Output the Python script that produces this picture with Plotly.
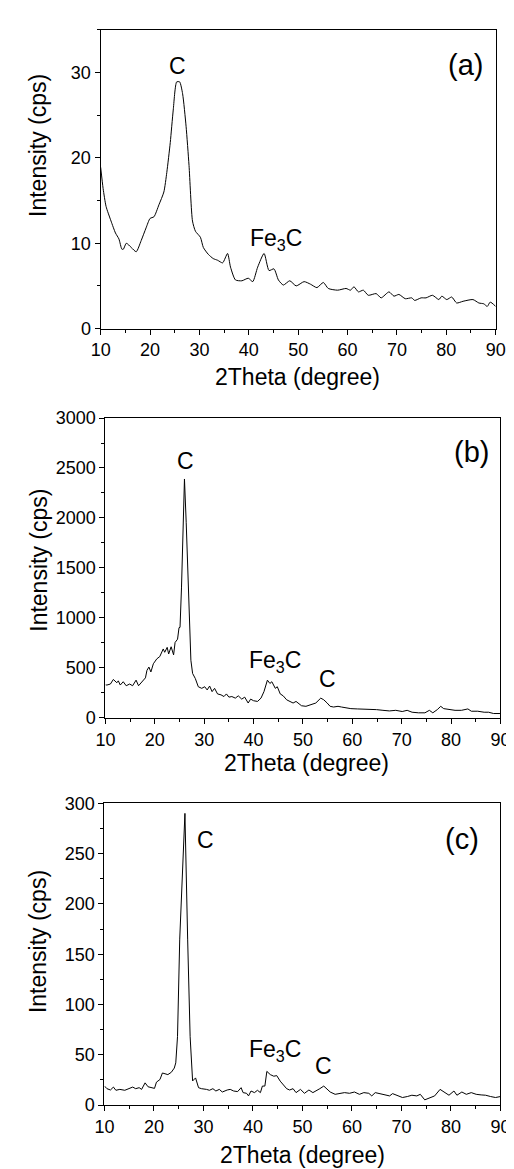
import plotly.graph_objects as go

# ---------------- data ----------------
a_x = [10, 10.5, 11.1, 12.1, 13.0, 13.7, 14.3, 14.6, 15.2, 16.2, 17.2, 18.2, 19.2, 20.0, 20.8,
       21.8, 22.8, 23.4, 24.1, 24.7, 25.4, 26.0, 26.6, 27.3, 27.9, 28.6, 29.2, 30.2, 30.8, 31.8,
       32.8, 33.7, 34.7, 35.7, 36.3, 37.3, 38.6, 39.9, 40.8, 41.8, 43.1, 44.1, 45.1, 46.0, 47.0,
       48.3, 49.6, 51.2, 52.5, 53.8, 55.1, 56.1, 58.0, 59.7, 60.6, 61.3, 62.2, 63.2, 64.2, 65.8,
       66.8, 68.4, 69.4, 70.4, 71.7, 73.0, 73.6, 74.9, 75.9, 77.2, 78.5, 79.1, 80.1, 81.1, 82.1,
       83.4, 85.4, 86.6, 87.6, 88.3, 88.9, 90.0]
a_y = [18.9, 16.4, 14.3, 12.6, 11.2, 10.5, 9.3, 9.3, 10.0, 9.5, 9.0, 10.3, 11.8, 12.9, 13.1,
       14.5, 16.0, 18.3, 21.8, 25.6, 28.9, 28.9, 27.5, 23.7, 19.1, 12.6, 11.4, 10.7, 9.5, 8.7,
       8.2, 8.0, 7.7, 8.8, 7.2, 5.7, 5.6, 5.9, 5.5, 7.2, 8.8, 6.8, 7.0, 5.7, 5.1,
       5.6, 5.0, 5.5, 5.2, 4.8, 5.4, 4.7, 4.5, 4.7, 4.5, 4.9, 4.3, 4.5, 3.9, 4.1,
       3.6, 4.3, 3.8, 4.0, 3.5, 3.6, 3.3, 3.6, 3.6, 3.9, 3.4, 3.8, 3.4, 3.7, 3.0,
       3.2, 3.4, 3.0, 2.9, 2.6, 3.1, 2.6]

b_x = [10.0, 10.3, 11.0, 11.6, 12.3, 12.6, 13.0, 13.6, 14.2, 14.9, 15.5, 16.2, 16.7, 17.5, 18.1,
       18.4, 18.8, 19.2, 19.7, 20.4, 21.0, 21.7, 22.0, 22.5, 22.8, 23.3, 23.8, 24.1, 24.6, 24.9,
       25.1, 25.4, 25.7, 26.0, 26.35, 26.7, 27.0, 27.3, 27.65, 28.0, 28.2, 28.8, 29.5, 30.1, 30.6,
       31.1, 31.6, 32.1, 32.7, 33.4, 34.0, 34.5, 35.0, 35.6, 36.3, 36.9, 37.6, 38.2, 38.9, 39.4,
       40.0, 40.8, 41.5, 42.1, 42.8, 43.3, 43.7, 44.4, 44.8, 45.4, 46.0, 46.7, 47.3, 48.0, 48.6,
       49.3, 49.7, 50.6, 51.6, 52.6, 53.6, 54.2, 54.9, 55.5, 56.2, 57.1, 57.8, 58.8, 59.7, 61.0,
       62.3, 63.6, 64.9, 66.2, 67.5, 68.8, 70.1, 71.1, 72.1, 73.4, 74.7, 75.6, 76.3, 77.2, 77.9,
       78.5, 79.5, 80.8, 82.1, 83.4, 84.1, 85.4, 86.7, 87.6, 88.6, 89.9]
b_y = [330, 328, 338, 384, 351, 370, 328, 361, 321, 338, 321, 377, 321, 361, 400,
       475, 508, 459, 541, 590, 613, 689, 656, 705, 639, 711, 630, 754, 787, 902,
       905, 1300, 1793, 2390, 1957, 1431, 970, 576, 444, 411, 393, 311, 295, 311, 279,
       318, 262, 295, 239, 230, 213, 239, 207, 213, 197, 220, 187, 207, 148, 187,
       171, 164, 197, 262, 377, 344, 361, 295, 311, 239, 220, 180, 164, 148, 164,
       131, 121, 115, 131, 148, 197, 181, 148, 115, 108, 115, 108, 98, 92, 89,
       89, 82, 82, 75, 69, 75, 63, 75, 56, 50, 50, 75, 50, 82, 115,
       92, 82, 75, 75, 89, 66, 66, 56, 56, 43, 43]

c_x = [10.0, 10.5, 11.2, 11.8, 12.3, 13.1, 14.1, 15.0, 15.7, 16.3, 17.0, 17.5, 18.2, 18.8, 19.6,
       20.1, 20.5, 21.2, 21.7, 22.2, 22.8, 23.5, 24.1, 24.4, 24.75, 25.2, 26.25, 26.8, 27.3, 27.8,
       28.0, 28.4, 29.0, 29.6, 30.6, 31.2, 31.9, 32.5, 33.2, 33.8, 34.8, 35.4, 36.1, 36.9, 37.6,
       38.0, 38.7, 39.1, 39.6, 40.3, 40.9, 41.5, 41.9, 42.4, 42.8, 43.5, 44.2, 44.8, 45.5, 46.1,
       46.8, 47.4, 48.1, 48.7, 49.3, 49.6, 50.4, 51.3, 52.1, 52.8, 53.5, 54.3, 55.0, 55.6, 56.6,
       57.6, 58.5, 59.5, 60.5, 61.5, 62.4, 63.4, 64.0, 64.7, 65.7, 66.6, 67.6, 68.2, 69.2, 70.2,
       71.2, 72.1, 73.1, 73.8, 74.7, 75.7, 76.7, 77.8, 78.6, 79.6, 80.6, 81.2, 82.2, 83.1, 84.1,
       85.1, 86.1, 87.0, 88.0, 89.0, 90.0]
c_y = [18.9, 16.3, 15.0, 17.9, 14.7, 15.6, 14.7, 16.6, 17.9, 16.3, 17.3, 15.6, 22.1, 18.2, 17.3,
       16.6, 22.8, 25.4, 31.9, 30.9, 30.3, 32.6, 36.8, 42.0, 68.0, 165.0, 290.0, 165.0, 68.0, 24.0,
       25.4, 27.0, 17.3, 16.3, 15.6, 14.7, 16.3, 14.0, 15.6, 13.0, 15.0, 15.6, 14.0, 13.4, 17.3,
       12.4, 11.7, 9.1, 14.0, 12.4, 14.7, 12.4, 18.9, 18.9, 33.5, 30.3, 28.7, 29.3, 23.8, 20.5,
       16.3, 15.0, 16.3, 12.4, 14.0, 15.6, 11.7, 15.0, 12.4, 14.0, 16.3, 18.9, 15.6, 13.0, 10.7,
       11.7, 12.4, 11.7, 13.0, 10.7, 12.4, 11.7, 9.1, 12.4, 11.4, 9.8, 9.1, 11.4, 9.8, 7.5,
       8.5, 9.8, 9.1, 10.7, 5.2, 7.5, 9.1, 15.6, 13.0, 9.8, 14.0, 9.8, 13.0, 10.7, 12.4,
       10.7, 10.1, 9.8, 8.5, 7.5, 8.5]

x_range = [10, 90]
y_ranges = [[0, 35], [0, 3000], [0, 300]]
y_dticks = [10, 500, 50]
y_minor = [5, 250, 25]
panel_labels = ["(a)", "(b)", "(c)"]
x_title = "2Theta (degree)"
y_title = "Intensity (cps)"

# ---------------- layout geometry (pixels) ----------------
W, H = 514, 1169
boxes = [  # left, right, top, bottom
    (86, 497, 12, 316),
    (91, 502, 407, 712),
    (90, 502, 799, 1106),
]
line_shapes = ["spline", "linear", "linear"]

def px(xp):
    return xp / W

def py(yp):
    return 1 - yp / H

fig = go.Figure()
series = [(a_x, a_y), (b_x, b_y), (c_x, c_y)]
font_family = "Liberation Sans, Arial, sans-serif"

for i, ((xs, ys), (l, r, t, b)) in enumerate(zip(series, boxes)):
    n = "" if i == 0 else str(i + 1)
    fig.add_trace(go.Scatter(x=xs, y=ys, mode="lines",
                             line=dict(color="black", width=1, shape=line_shapes[i], smoothing=0.6),
                             xaxis="x" + n, yaxis="y" + n, showlegend=False,
                             hoverinfo="skip"))
    axis_common = dict(showline=True, linecolor="black", linewidth=1.3, mirror=True,
                       ticks="outside", ticklen=5, tickwidth=1, tickcolor="black",
                       showgrid=False, zeroline=False,
                       tickfont=dict(family=font_family, size=18, color="black"))
    fig.update_layout(**{
        "xaxis" + n: dict(domain=[px(l), px(r)], range=x_range, dtick=10, tick0=10,
                          anchor="y" + n,
                          minor=dict(ticks="outside", dtick=5, ticklen=3, tickcolor="black"),
                          **axis_common),
        "yaxis" + n: dict(domain=[py(b), py(t)], range=y_ranges[i], dtick=y_dticks[i], tick0=0,
                          anchor="x" + n,
                          minor=dict(ticks="outside", dtick=y_minor[i], ticklen=3, tickcolor="black"),
                          **axis_common),
    })

ann = []
def add_text(text, xp, yp, size, angle=0):
    ann.append(dict(text=text, x=px(xp), y=py(yp), xref="paper", yref="paper",
                    showarrow=False, textangle=angle, xanchor="center", yanchor="middle",
                    font=dict(family=font_family, size=size, color="black")))

# axis titles
add_text(x_title, 291, 365, 23)
add_text(x_title, 300, 758, 23)
add_text(x_title, 296, 1157, 23)
add_text(y_title, 21, 130, 23, -90)
add_text(y_title, 21, 552, 23, -90)
add_text(y_title, 21, 940, 23, -90)

# panel labels
add_text(panel_labels[0], 466, 48, 29)
add_text(panel_labels[1], 472, 442, 29)
add_text(panel_labels[2], 462, 835, 29)

# peak labels
add_text("C", 166, 49, 23)
add_text("Fe<sub>3</sub>C", 268, 225, 23)
add_text("C", 174, 451, 23)
add_text("Fe<sub>3</sub>C", 267, 655, 23)
add_text("C", 322, 672, 23)
add_text("C", 195, 836, 23)
add_text("Fe<sub>3</sub>C", 267, 1050, 23)
add_text("C", 318, 1066, 23)

fig.update_layout(width=W, height=H, margin=dict(l=0, r=0, t=0, b=0),
                  paper_bgcolor="white", plot_bgcolor="white",
                  annotations=ann, showlegend=False)

fig.write_html("out.html")
